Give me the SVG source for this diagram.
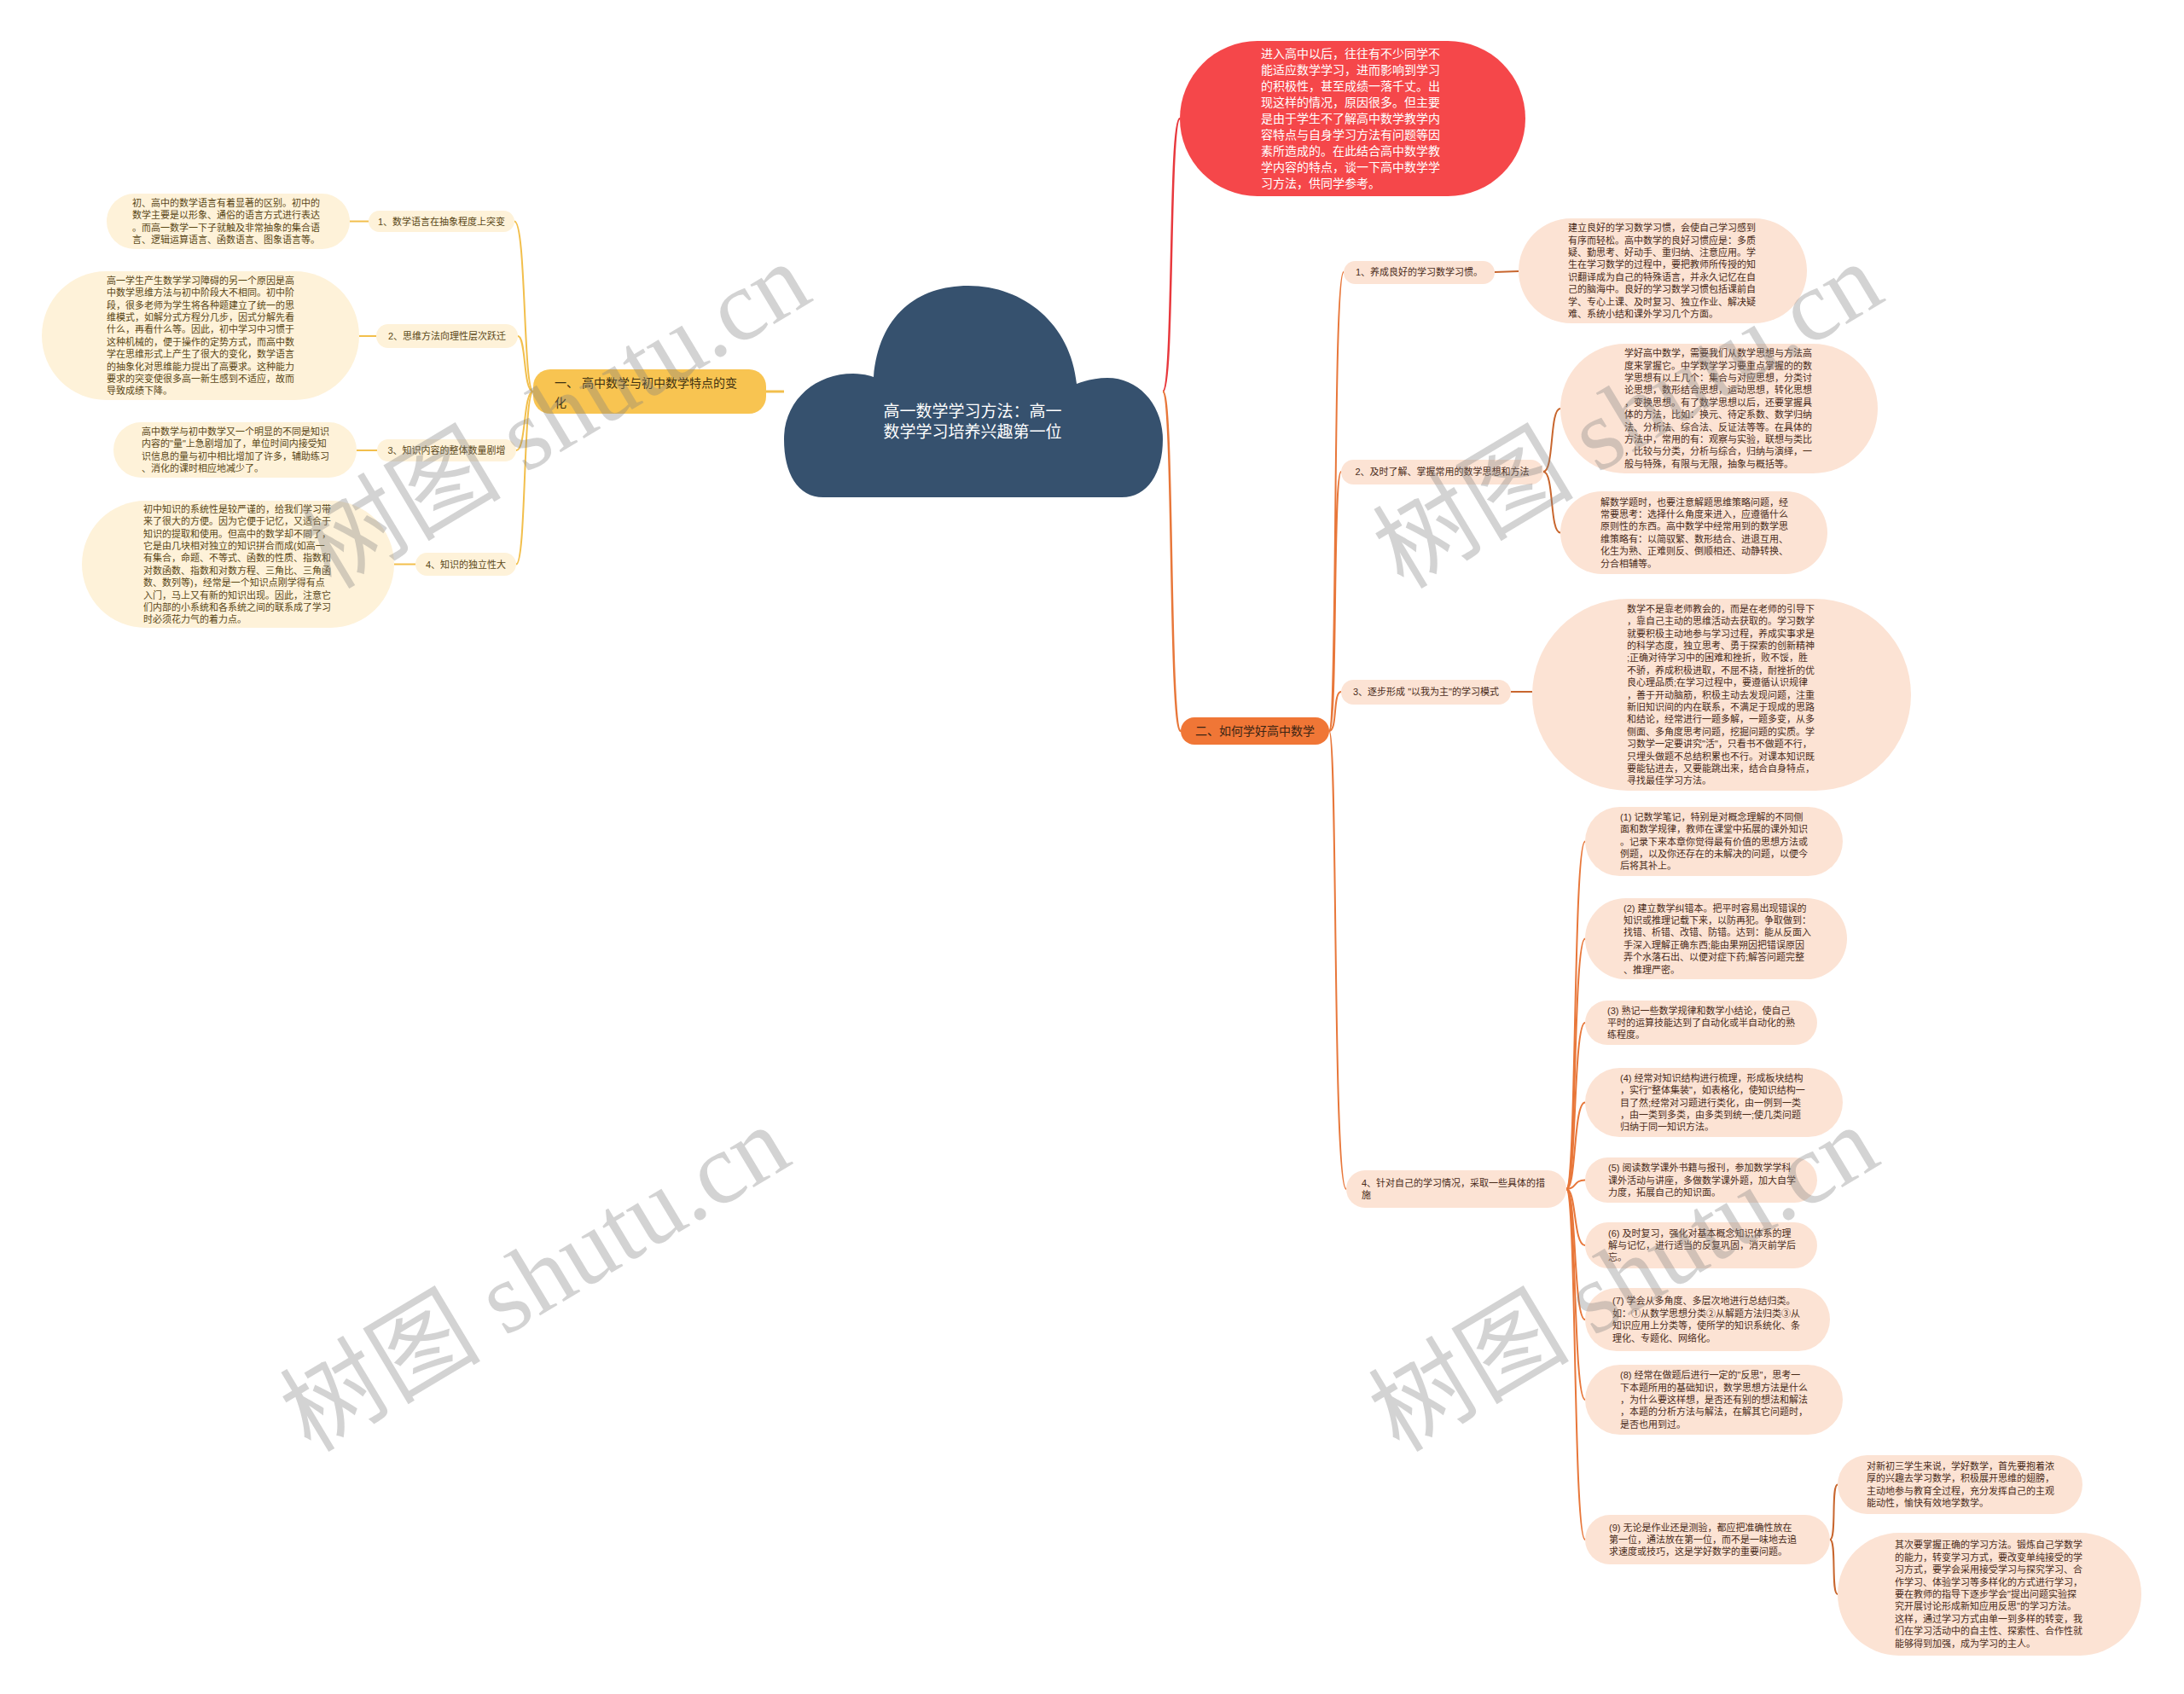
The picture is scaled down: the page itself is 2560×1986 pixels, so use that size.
<svg xmlns="http://www.w3.org/2000/svg" width="2560" height="1986" viewBox="0 0 2560 1986">
<style>
text{font-family:"Liberation Sans","Noto Sans CJK SC",sans-serif}
.s{font-size:11px}
.lt{fill:#5a4716}
.rt{fill:#4a2c1a}
.lbox{fill:#FEF2D9}
.rbox{fill:#FCE3D4}
.yc{fill:none;stroke:#F2BF4C;stroke-width:2}
.oc{fill:none;stroke:#E8773A;stroke-width:2}
.bc{fill:none;stroke:#C8662E;stroke-width:2}
.wm{font-family:"Liberation Serif","Noto Sans CJK SC",serif;font-size:118px;fill:#808080;fill-opacity:0.35}
</style>
<rect width="2560" height="1986" fill="#ffffff"/>

<g id="connectors">
<path class="yc" style="stroke-width:3" d="M919,459 L898,459"/>
<path class="yc" d="M625,459 C613,459 617,259.5 603,259.5"/>
<path class="yc" d="M625,459 C613,459 617,394 607,394"/>
<path class="yc" d="M625,459 C613,459 617,528 605,528"/>
<path class="yc" d="M625,459 C613,459 617,661.5 605,661.5"/>
<path class="yc" d="M432,259.5 L410,259.5"/>
<path class="yc" d="M441,394 L421,394"/>
<path class="yc" d="M442,528 L418,528"/>
<path class="yc" d="M487,661.5 L462,661.5"/>
<path fill="none" stroke="#E8383D" stroke-width="2.5" d="M1363,459 C1376,459 1370,139 1383,139"/>
<path class="oc" style="stroke-width:2.5" d="M1363,459 C1376,459 1370,857 1384,857"/>
<path class="oc" d="M1558,857 C1568,857 1562,319 1575,319"/>
<path class="oc" d="M1558,857 C1568,857 1562,553 1572,553"/>
<path class="oc" d="M1558,857 C1568,857 1562,811 1572,811"/>
<path class="oc" d="M1558,857 C1568,857 1562,1394 1578,1394"/>
<path class="bc" d="M1752,319 L1780,318"/>
<path class="bc" d="M1809,553 C1822,553 1816,479 1829,479"/>
<path class="bc" d="M1809,553 C1822,553 1816,624.5 1829,624.5"/>
<path class="bc" d="M1771,811 L1796,811"/>
<path class="oc" d="M1836,1394 C1848,1394 1844,986.5 1858,986.5"/>
<path class="oc" d="M1836,1394 C1848,1394 1844,1100.5 1858,1100.5"/>
<path class="oc" d="M1836,1394 C1848,1394 1844,1199 1858,1199"/>
<path class="oc" d="M1836,1394 C1848,1394 1844,1292.5 1858,1292.5"/>
<path class="oc" d="M1836,1394 C1848,1394 1844,1383.5 1858,1383.5"/>
<path class="oc" d="M1836,1394 C1848,1394 1844,1460 1858,1460"/>
<path class="oc" d="M1836,1394 C1848,1394 1844,1547 1858,1547"/>
<path class="oc" d="M1836,1394 C1848,1394 1844,1641 1858,1641"/>
<path class="oc" d="M1836,1394 C1848,1394 1844,1805 1858,1805"/>
<path class="bc" d="M2145,1805 C2153,1805 2146,1740.5 2154,1740.5"/>
<path class="bc" d="M2145,1805 C2153,1805 2146,1869 2154,1869"/>
</g>

<g id="root">
<path fill="#36516E" d="M965,583 C935,583 919,555 919,515 C919,470 955,438 1000,438 C1010,438 1018,440 1024,442 C1030,370 1075,335 1135,335 C1200,335 1255,380 1262,450 C1272,446 1285,443 1298,443 C1335,443 1363,475 1363,515 C1363,555 1345,583 1315,583 Z"/>
<text x="1140" y="489" text-anchor="middle" font-size="19" fill="#ffffff">高一数学学习方法：高一</text>
<text x="1140" y="513" text-anchor="middle" font-size="19" fill="#ffffff">数学学习培养兴趣第一位</text>
</g>

<g id="intro">
<rect x="1383" y="48" width="405" height="182" rx="91" fill="#F5474A"/>
<text x="1478" y="67.6" font-size="14" fill="#ffffff"><tspan x="1478">进入高中以后，往往有不少同学不</tspan><tspan x="1478" dy="19.1">能适应数学学习，进而影响到学习</tspan><tspan x="1478" dy="19.1">的积极性，甚至成绩一落千丈。出</tspan><tspan x="1478" dy="19.1">现这样的情况，原因很多。但主要</tspan><tspan x="1478" dy="19.1">是由于学生不了解高中数学教学内</tspan><tspan x="1478" dy="19.1">容特点与自身学习方法有问题等因</tspan><tspan x="1478" dy="19.1">素所造成的。在此结合高中数学教</tspan><tspan x="1478" dy="19.1">学内容的特点，谈一下高中数学学</tspan><tspan x="1478" dy="19.1">习方法，供同学参考。</tspan></text>
</g>

<g id="branch1">
<rect x="625" y="433" width="273" height="52" rx="20" fill="#F8C451"/>
<text font-size="14" fill="#3d3010"><tspan x="650" y="454">一、 高中数学与初中数学特点的变</tspan><tspan x="650" y="477">化</tspan></text>
</g>

<g id="l1">
<rect class="lbox" x="432" y="247" width="171" height="25" rx="12.5"/>
<text class="s lt" x="517.5" y="263.5" text-anchor="middle">1、数学语言在抽象程度上突变</text>
</g>
<g id="l1c">
<rect class="lbox" x="125" y="227" width="285" height="65" rx="32.5"/>
<text class="s lt" y="241.9"><tspan x="155">初、高中的数学语言有着显著的区别。初中的</tspan><tspan x="155" dy="14.4">数学主要是以形象、通俗的语言方式进行表达</tspan><tspan x="155" dy="14.4">。而高一数学一下子就触及非常抽象的集合语</tspan><tspan x="155" dy="14.4">言、逻辑运算语言、函数语言、图象语言等。</tspan></text>
</g>

<g id="l2">
<rect class="lbox" x="441" y="380" width="166" height="28" rx="14"/>
<text class="s lt" x="524" y="398" text-anchor="middle">2、思维方法向理性层次跃迁</text>
</g>
<g id="l2c">
<rect class="lbox" x="49" y="318" width="372" height="151" rx="75.5"/>
<text class="s lt" y="332.7"><tspan x="125">高一学生产生数学学习障碍的另一个原因是高</tspan><tspan x="125" dy="14.4">中数学思维方法与初中阶段大不相同。初中阶</tspan><tspan x="125" dy="14.4">段，很多老师为学生将各种题建立了统一的思</tspan><tspan x="125" dy="14.4">维模式，如解分式方程分几步，因式分解先看</tspan><tspan x="125" dy="14.4">什么，再看什么等。因此，初中学习中习惯于</tspan><tspan x="125" dy="14.4">这种机械的，便于操作的定势方式，而高中数</tspan><tspan x="125" dy="14.4">学在思维形式上产生了很大的变化，数学语言</tspan><tspan x="125" dy="14.4">的抽象化对思维能力提出了高要求。这种能力</tspan><tspan x="125" dy="14.4">要求的突变使很多高一新生感到不适应，故而</tspan><tspan x="125" dy="14.4">导致成绩下降。</tspan></text>
</g>

<g id="l3">
<rect class="lbox" x="442" y="515" width="163" height="26" rx="13"/>
<text class="s lt" x="523.5" y="532" text-anchor="middle">3、知识内容的整体数量剧增</text>
</g>
<g id="l3c">
<rect class="lbox" x="133" y="495" width="285" height="65" rx="32.5"/>
<text class="s lt" y="509.9"><tspan x="166">高中数学与初中数学又一个明显的不同是知识</tspan><tspan x="166" dy="14.4">内容的"量"上急剧增加了，单位时间内接受知</tspan><tspan x="166" dy="14.4">识信息的量与初中相比增加了许多，辅助练习</tspan><tspan x="166" dy="14.4">、消化的课时相应地减少了。</tspan></text>
</g>

<g id="l4">
<rect class="lbox" x="487" y="648" width="118" height="27" rx="13.5"/>
<text class="s lt" x="546" y="665.5" text-anchor="middle">4、知识的独立性大</text>
</g>
<g id="l4c">
<rect class="lbox" x="96" y="587" width="366" height="149" rx="74.5"/>
<text class="s lt" y="600.7"><tspan x="168">初中知识的系统性是较严谨的，给我们学习带</tspan><tspan x="168" dy="14.4">来了很大的方便。因为它便于记忆，又适合于</tspan><tspan x="168" dy="14.4">知识的提取和使用。但高中的数学却不同了，</tspan><tspan x="168" dy="14.4">它是由几块相对独立的知识拼合而成(如高一</tspan><tspan x="168" dy="14.4">有集合，命题、不等式、函数的性质、指数和</tspan><tspan x="168" dy="14.4">对数函数、指数和对数方程、三角比、三角函</tspan><tspan x="168" dy="14.4">数、数列等)，经常是一个知识点刚学得有点</tspan><tspan x="168" dy="14.4">入门，马上又有新的知识出现。因此，注意它</tspan><tspan x="168" dy="14.4">们内部的小系统和各系统之间的联系成了学习</tspan><tspan x="168" dy="14.4">时必须花力气的着力点。</tspan></text>
</g>

<g id="branch2">
<rect x="1384" y="841" width="174" height="32" rx="16" fill="#F07636"/>
<text x="1471" y="862" text-anchor="middle" font-size="14" fill="#3a2414">二、如何学好高中数学</text>
</g>

<g id="r1">
<rect class="rbox" x="1575" y="306" width="177" height="27" rx="13.5"/>
<text class="s rt" x="1663.5" y="323" text-anchor="middle">1、养成良好的学习数学习惯。</text>
</g>
<g id="r1c">
<rect class="rbox" x="1780" y="256" width="338" height="123" rx="61.5"/>
<text class="s rt" y="271.1"><tspan x="1838">建立良好的学习数学习惯，会使自己学习感到</tspan><tspan x="1838" dy="14.4">有序而轻松。高中数学的良好习惯应是：多质</tspan><tspan x="1838" dy="14.4">疑、勤思考、好动手、重归纳、注意应用。学</tspan><tspan x="1838" dy="14.4">生在学习数学的过程中，要把教师所传授的知</tspan><tspan x="1838" dy="14.4">识翻译成为自己的特殊语言，并永久记忆在自</tspan><tspan x="1838" dy="14.4">己的脑海中。良好的学习数学习惯包括课前自</tspan><tspan x="1838" dy="14.4">学、专心上课、及时复习、独立作业、解决疑</tspan><tspan x="1838" dy="14.4">难、系统小结和课外学习几个方面。</tspan></text>
</g>

<g id="r2">
<rect class="rbox" x="1572" y="539" width="237" height="29" rx="14.5"/>
<text class="s rt" x="1690.5" y="557" text-anchor="middle">2、及时了解、掌握常用的数学思想和方法</text>
</g>
<g id="r2a">
<rect class="rbox" x="1829" y="403" width="372" height="152" rx="76"/>
<text class="s rt" y="418.2"><tspan x="1904">学好高中数学，需要我们从数学思想与方法高</tspan><tspan x="1904" dy="14.4">度来掌握它。中学数学学习要重点掌握的的数</tspan><tspan x="1904" dy="14.4">学思想有以上几个：集合与对应思想，分类讨</tspan><tspan x="1904" dy="14.4">论思想，数形结合思想，运动思想，转化思想</tspan><tspan x="1904" dy="14.4">，变换思想。有了数学思想以后，还要掌握具</tspan><tspan x="1904" dy="14.4">体的方法，比如：换元、待定系数、数学归纳</tspan><tspan x="1904" dy="14.4">法、分析法、综合法、反证法等等。在具体的</tspan><tspan x="1904" dy="14.4">方法中，常用的有：观察与实验，联想与类比</tspan><tspan x="1904" dy="14.4">，比较与分类，分析与综合，归纳与演绎，一</tspan><tspan x="1904" dy="14.4">般与特殊，有限与无限，抽象与概括等。</tspan></text>
</g>
<g id="r2b">
<rect class="rbox" x="1829" y="576" width="313" height="97" rx="48.5"/>
<text class="s rt" y="592.5"><tspan x="1876">解数学题时，也要注意解题思维策略问题，经</tspan><tspan x="1876" dy="14.4">常要思考：选择什么角度来进入，应遵循什么</tspan><tspan x="1876" dy="14.4">原则性的东西。高中数学中经常用到的数学思</tspan><tspan x="1876" dy="14.4">维策略有：以简驭繁、数形结合、进退互用、</tspan><tspan x="1876" dy="14.4">化生为熟、正难则反、倒顺相还、动静转换、</tspan><tspan x="1876" dy="14.4">分合相辅等。</tspan></text>
</g>

<g id="r3">
<rect class="rbox" x="1572" y="797" width="199" height="29" rx="14.5"/>
<text class="s rt" x="1671.5" y="815" text-anchor="middle">3、逐步形成 "以我为主"的学习模式</text>
</g>
<g id="r3c">
<rect class="rbox" x="1796" y="702" width="444" height="225" rx="112.5"/>
<text class="s rt" y="717.7"><tspan x="1907">数学不是靠老师教会的，而是在老师的引导下</tspan><tspan x="1907" dy="14.4">，靠自己主动的思维活动去获取的。学习数学</tspan><tspan x="1907" dy="14.4">就要积极主动地参与学习过程，养成实事求是</tspan><tspan x="1907" dy="14.4">的科学态度，独立思考、勇于探索的创新精神</tspan><tspan x="1907" dy="14.4">;正确对待学习中的困难和挫折，败不馁，胜</tspan><tspan x="1907" dy="14.4">不骄，养成积极进取，不屈不挠，耐挫折的优</tspan><tspan x="1907" dy="14.4">良心理品质;在学习过程中，要遵循认识规律</tspan><tspan x="1907" dy="14.4">，善于开动脑筋，积极主动去发现问题，注重</tspan><tspan x="1907" dy="14.4">新旧知识间的内在联系，不满足于现成的思路</tspan><tspan x="1907" dy="14.4">和结论，经常进行一题多解，一题多变，从多</tspan><tspan x="1907" dy="14.4">侧面、多角度思考问题，挖掘问题的实质。学</tspan><tspan x="1907" dy="14.4">习数学一定要讲究"活"，只看书不做题不行，</tspan><tspan x="1907" dy="14.4">只埋头做题不总结积累也不行。对课本知识既</tspan><tspan x="1907" dy="14.4">要能钻进去，又要能跳出来，结合自身特点，</tspan><tspan x="1907" dy="14.4">寻找最佳学习方法。</tspan></text>
</g>

<g id="r4">
<rect class="rbox" x="1578" y="1372" width="258" height="44" rx="22"/>
<text class="s rt"><tspan x="1596" y="1390.8">4、针对自己的学习情况，采取一些具体的措</tspan><tspan x="1596" y="1405.2">施</tspan></text>
</g>

<g id="r4-1">
<rect class="rbox" x="1858" y="946" width="302" height="81" rx="40.5"/>
<text class="s rt" y="961.7"><tspan x="1899">(1) 记数学笔记，特别是对概念理解的不同侧</tspan><tspan x="1899" dy="14.4">面和数学规律，教师在课堂中拓展的课外知识</tspan><tspan x="1899" dy="14.4">。记录下来本章你觉得最有价值的思想方法或</tspan><tspan x="1899" dy="14.4">例题，以及你还存在的未解决的问题，以便今</tspan><tspan x="1899" dy="14.4">后将其补上。</tspan></text>
</g>
<g id="r4-2">
<rect class="rbox" x="1858" y="1053" width="307" height="95" rx="47.5"/>
<text class="s rt" y="1068.5"><tspan x="1903">(2) 建立数学纠错本。把平时容易出现错误的</tspan><tspan x="1903" dy="14.4">知识或推理记载下来，以防再犯。争取做到：</tspan><tspan x="1903" dy="14.4">找错、析错、改错、防错。达到：能从反面入</tspan><tspan x="1903" dy="14.4">手深入理解正确东西;能由果朔因把错误原因</tspan><tspan x="1903" dy="14.4">弄个水落石出、以便对症下药;解答问题完整</tspan><tspan x="1903" dy="14.4">、推理严密。</tspan></text>
</g>
<g id="r4-3">
<rect class="rbox" x="1858" y="1173" width="272" height="52" rx="26"/>
<text class="s rt" y="1188.6"><tspan x="1884">(3) 熟记一些数学规律和数学小结论，使自己</tspan><tspan x="1884" dy="14.4">平时的运算技能达到了自动化或半自动化的熟</tspan><tspan x="1884" dy="14.4">练程度。</tspan></text>
</g>
<g id="r4-4">
<rect class="rbox" x="1858" y="1252" width="302" height="81" rx="40.5"/>
<text class="s rt" y="1267.7"><tspan x="1899">(4) 经常对知识结构进行梳理，形成板块结构</tspan><tspan x="1899" dy="14.4">，实行"整体集装"，如表格化，使知识结构一</tspan><tspan x="1899" dy="14.4">目了然;经常对习题进行类化，由一例到一类</tspan><tspan x="1899" dy="14.4">，由一类到多类，由多类到统一;使几类问题</tspan><tspan x="1899" dy="14.4">归纳于同一知识方法。</tspan></text>
</g>
<g id="r4-5">
<rect class="rbox" x="1858" y="1357" width="272" height="53" rx="26.5"/>
<text class="s rt" y="1373.1"><tspan x="1885">(5) 阅读数学课外书籍与报刊，参加数学学科</tspan><tspan x="1885" dy="14.4">课外活动与讲座，多做数学课外题，加大自学</tspan><tspan x="1885" dy="14.4">力度，拓展自己的知识面。</tspan></text>
</g>
<g id="r4-6">
<rect class="rbox" x="1858" y="1433" width="272" height="54" rx="27"/>
<text class="s rt" y="1449.6"><tspan x="1885">(6) 及时复习，强化对基本概念知识体系的理</tspan><tspan x="1885" dy="14.4">解与记忆，进行适当的反复巩固，消灭前学后</tspan><tspan x="1885" dy="14.4">忘。</tspan></text>
</g>
<g id="r4-7">
<rect class="rbox" x="1858" y="1510" width="287" height="74" rx="37"/>
<text class="s rt" y="1529.4"><tspan x="1890">(7) 学会从多角度、多层次地进行总结归类。</tspan><tspan x="1890" dy="14.4">如：①从数学思想分类②从解题方法归类③从</tspan><tspan x="1890" dy="14.4">知识应用上分类等，使所学的知识系统化、条</tspan><tspan x="1890" dy="14.4">理化、专题化、网络化。</tspan></text>
</g>
<g id="r4-8">
<rect class="rbox" x="1858" y="1600" width="302" height="82" rx="41"/>
<text class="s rt" y="1616.2"><tspan x="1899">(8) 经常在做题后进行一定的"反思"，思考一</tspan><tspan x="1899" dy="14.4">下本题所用的基础知识，数学思想方法是什么</tspan><tspan x="1899" dy="14.4">，为什么要这样想，是否还有别的想法和解法</tspan><tspan x="1899" dy="14.4">，本题的分析方法与解法，在解其它问题时，</tspan><tspan x="1899" dy="14.4">是否也用到过。</tspan></text>
</g>
<g id="r4-9">
<rect class="rbox" x="1858" y="1776" width="287" height="58" rx="29"/>
<text class="s rt" y="1794.6"><tspan x="1886">(9) 无论是作业还是测验，都应把准确性放在</tspan><tspan x="1886" dy="14.4">第一位，通法放在第一位，而不是一味地去追</tspan><tspan x="1886" dy="14.4">求速度或技巧，这是学好数学的重要问题。</tspan></text>
</g>
<g id="r4-9a">
<rect class="rbox" x="2154" y="1706" width="287" height="69" rx="34.5"/>
<text class="s rt" y="1722.9"><tspan x="2188">对新初三学生来说，学好数学，首先要抱着浓</tspan><tspan x="2188" dy="14.4">厚的兴趣去学习数学，积极展开思维的翅膀，</tspan><tspan x="2188" dy="14.4">主动地参与教育全过程，充分发挥自己的主观</tspan><tspan x="2188" dy="14.4">能动性，愉快有效地学数学。</tspan></text>
</g>
<g id="r4-9b">
<rect class="rbox" x="2154" y="1797" width="356" height="144" rx="72"/>
<text class="s rt" y="1815.4"><tspan x="2221">其次要掌握正确的学习方法。锻炼自己学数学</tspan><tspan x="2221" dy="14.4">的能力，转变学习方式，要改变单纯接受的学</tspan><tspan x="2221" dy="14.4">习方式，要学会采用接受学习与探究学习、合</tspan><tspan x="2221" dy="14.4">作学习、体验学习等多样化的方式进行学习，</tspan><tspan x="2221" dy="14.4">要在教师的指导下逐步学会"提出问题实验探</tspan><tspan x="2221" dy="14.4">究开展讨论形成新知应用反思"的学习方法。</tspan><tspan x="2221" dy="14.4">这样，通过学习方式由单一到多样的转变，我</tspan><tspan x="2221" dy="14.4">们在学习活动中的自主性、探索性、合作性就</tspan><tspan x="2221" dy="14.4">能够得到加强，成为学习的主人。</tspan></text>
</g>

<g id="watermarks">
<text class="wm" x="388" y="692" transform="rotate(-31 388 692)">树图 shutu.cn</text>
<text class="wm" x="1645" y="692" transform="rotate(-31 1645 692)">树图 shutu.cn</text>
<text class="wm" x="364" y="1704" transform="rotate(-31 364 1704)">树图 shutu.cn</text>
<text class="wm" x="1640" y="1704" transform="rotate(-31 1640 1704)">树图 shutu.cn</text>
</g>
</svg>
